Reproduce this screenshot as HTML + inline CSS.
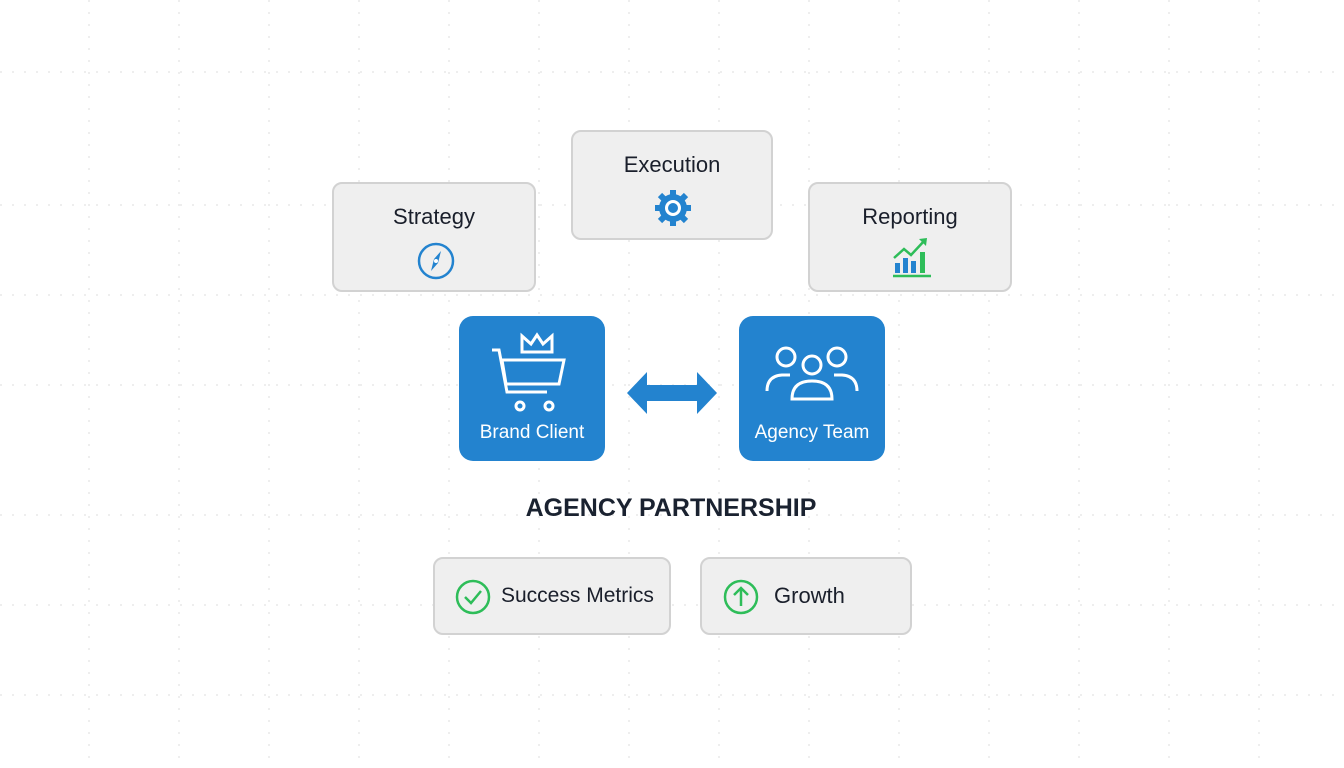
<!DOCTYPE html>
<html><head><style>
body{margin:0;width:1344px;height:768px;background:#fff;position:relative;overflow:hidden;font-family:"Liberation Sans",sans-serif;}
.grid{position:absolute;inset:0;
background-image:
repeating-linear-gradient(to right,#ebebeb 0 2px,transparent 2px 12px),
repeating-linear-gradient(to bottom,#ebebeb 0 2px,transparent 2px 12px);
background-size:100% 2px,2px 100%;background-repeat:no-repeat;opacity:0}
.gl{position:absolute;background:transparent}
.g{position:absolute;background:#efefef;border:2px solid #d2d2d2;border-radius:10px;box-sizing:border-box;color:#1a1f2b;}
.t{position:absolute;left:0;right:0;text-align:center;font-size:22px;}
.b{position:absolute;background:#2383cf;border-radius:14px;color:#fff;}
.bl{position:absolute;left:0;right:0;text-align:center;font-size:19px;top:106px}
</style></head><body>
<svg style="position:absolute;left:0;top:0" width="1344" height="768">
<g stroke="#e8e8e8" stroke-width="1.5" stroke-dasharray="2 10">
<line x1="89" y1="0" x2="89" y2="768"/><line x1="179" y1="0" x2="179" y2="768"/><line x1="269" y1="0" x2="269" y2="768"/><line x1="359" y1="0" x2="359" y2="768"/><line x1="449" y1="0" x2="449" y2="768"/><line x1="539" y1="0" x2="539" y2="768"/><line x1="629" y1="0" x2="629" y2="768"/><line x1="719" y1="0" x2="719" y2="768"/><line x1="809" y1="0" x2="809" y2="768"/><line x1="899" y1="0" x2="899" y2="768"/><line x1="989" y1="0" x2="989" y2="768"/><line x1="1079" y1="0" x2="1079" y2="768"/><line x1="1169" y1="0" x2="1169" y2="768"/><line x1="1259" y1="0" x2="1259" y2="768"/>
<line x1="0" y1="72" x2="1344" y2="72"/><line x1="0" y1="205" x2="1344" y2="205"/><line x1="0" y1="295" x2="1344" y2="295"/><line x1="0" y1="385" x2="1344" y2="385"/><line x1="0" y1="515" x2="1344" y2="515"/><line x1="0" y1="605" x2="1344" y2="605"/><line x1="0" y1="695" x2="1344" y2="695"/>
</g></svg>
<div class="g" style="left:332px;top:182px;width:204px;height:110px"><div class="t" style="top:20px">Strategy</div>
<svg style="position:absolute;left:82px;top:57px" width="40" height="40" viewBox="0 0 40 40"><circle cx="20" cy="20" r="17" fill="none" stroke="#2383cf" stroke-width="2.5"/><path d="M25 10 L22 22 L15 30 L18 18Z" fill="#2383cf"/><circle cx="20" cy="20" r="2" fill="#fff"/></svg></div>
<div class="g" style="left:571px;top:130px;width:202px;height:110px"><div class="t" style="top:20px">Execution</div>
<svg style="position:absolute;left:80px;top:56px" width="40" height="40" viewBox="0 0 40 40"><g fill="#2383cf"><circle cx="20" cy="20" r="14"/><g stroke="#2383cf" stroke-width="6"><line x1="20" y1="2" x2="20" y2="38"/><line x1="2" y1="20" x2="38" y2="20"/><line x1="7" y1="7" x2="33" y2="33"/><line x1="33" y1="7" x2="7" y2="33"/></g></g><circle cx="20" cy="20" r="8" fill="#fff"/><circle cx="20" cy="20" r="5" fill="#2383cf"/></svg></div>
<div class="g" style="left:808px;top:182px;width:204px;height:110px"><div class="t" style="top:20px">Reporting</div>
<svg style="position:absolute;left:80px;top:52px" width="44" height="44" viewBox="0 0 44 44"><rect x="5" y="27" width="5" height="10" fill="#2383cf"/><rect x="13" y="22" width="5" height="15" fill="#2383cf"/><rect x="21" y="25" width="5" height="12" fill="#2383cf"/><rect x="30" y="16" width="5" height="21" fill="#2ebd59"/><line x1="3" y1="40" x2="41" y2="40" stroke="#2ebd59" stroke-width="2.5"/><polyline points="4,22 14,13 21,19 35,4" fill="none" stroke="#2ebd59" stroke-width="2.5"/><polygon points="37,2 29,3 36,10" fill="#2ebd59"/></svg></div>
<div class="b" style="left:459px;top:316px;width:146px;height:145px">
<svg style="position:absolute;left:30px;top:14px" width="80" height="84" viewBox="0 0 80 84" fill="none" stroke="#fff" stroke-width="3"><polyline points="3,20 10,20 18,62 58,62"/><polygon points="13,30 75,30 70,54 17,54"/><circle cx="31" cy="76" r="4"/><circle cx="60" cy="76" r="4"/><polygon points="33,22 33,6 42,14 48,5 54,14 63,6 63,22" fill="none"/></svg>
<div class="bl">Brand Client</div></div>
<svg style="position:absolute;left:627px;top:370px" width="90" height="46" viewBox="0 0 90 46"><polygon points="0,23 20,2 20,15 70,15 70,2 90,23 70,44 70,31 20,31 20,44" fill="#2383cf"/></svg>
<div class="b" style="left:739px;top:316px;width:146px;height:145px">
<svg style="position:absolute;left:26px;top:28px" width="94" height="58" viewBox="0 0 94 58" fill="none" stroke="#fff" stroke-width="3"><circle cx="21" cy="13" r="9"/><circle cx="72" cy="13" r="9"/><circle cx="47" cy="21" r="9"/><path d="M2 47 Q2 32 17 31 L25 31"/><path d="M92 47 Q92 32 77 31 L69 31"/><path d="M27 55 Q27 37 47 37 Q67 37 67 55 Z"/></svg>
<div class="bl">Agency Team</div></div>
<div style="position:absolute;left:420px;width:502px;top:494px;text-align:center;font-size:25px;font-weight:bold;color:#1a2230">AGENCY PARTNERSHIP</div>
<div class="g" style="left:433px;top:557px;width:238px;height:78px">
<svg style="position:absolute;left:20px;top:20px" width="36" height="36" viewBox="0 0 36 36" fill="none" stroke="#2ebd59" stroke-width="2.5"><circle cx="18" cy="18" r="16"/><polyline points="10,18 16,24 26,12"/></svg>
<div style="position:absolute;left:66px;top:25px;font-size:21px">Success Metrics</div></div>
<div class="g" style="left:700px;top:557px;width:212px;height:78px">
<svg style="position:absolute;left:21px;top:20px" width="36" height="36" viewBox="0 0 36 36" fill="none" stroke="#2ebd59" stroke-width="2.5"><circle cx="18" cy="18" r="16"/><line x1="18" y1="27" x2="18" y2="9"/><polyline points="11,16 18,9 25,16"/></svg>
<div style="position:absolute;left:72px;top:24px;font-size:22px">Growth</div></div>
</body></html>
